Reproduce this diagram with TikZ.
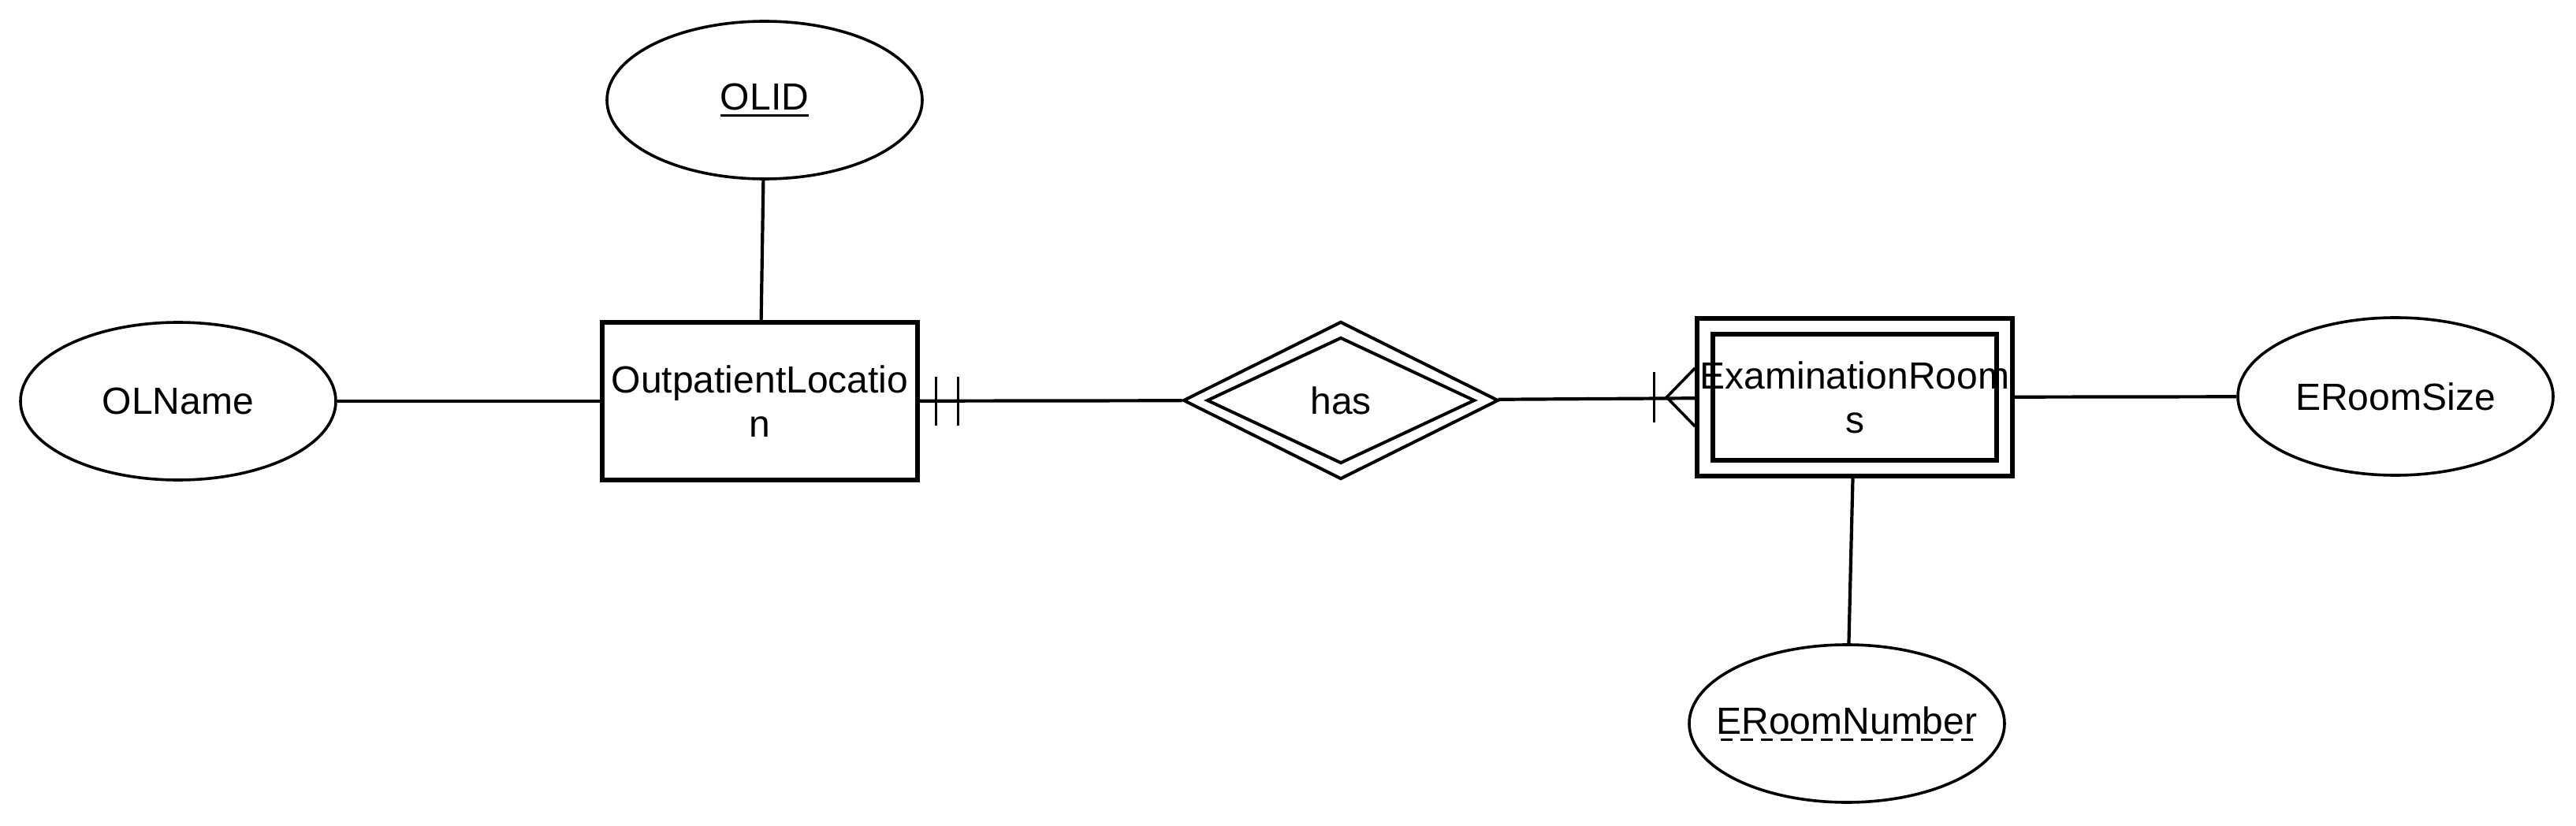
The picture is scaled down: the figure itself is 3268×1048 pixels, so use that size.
\documentclass[tikz,border=0pt]{standalone}
\usepackage{fontspec}
\setmainfont{Liberation Sans}
\usetikzlibrary{shapes.geometric,calc}

\newcommand{\keyline}[1]{\setbox0\hbox{#1}\vtop{\copy0\kern1.4pt\hrule height 0.65pt}}
\newcommand{\partkeyline}[1]{\setbox0\hbox{#1}\vtop{\copy0\nointerlineskip\kern1.4pt\hbox to \wd0{\xleaders\hbox to 6.2pt{\hss\vrule width 3.8pt height 0.55pt depth 0pt\hss}\hfill}}}

\tikzset{
  entity/.style={draw,line width=1.3pt,minimum width=100pt,minimum height=50pt,inner sep=0pt,align=center},
  attr/.style={draw,ellipse,line width=0.9pt,minimum width=100pt,minimum height=50pt,inner sep=0pt},
  rel/.style={draw,diamond,line width=1pt,minimum width=100pt,minimum height=50pt,inner sep=0pt},
  link/.style={line width=1.05pt},
  mark line/.style={line width=0.9pt}
}

\begin{document}
\begin{tikzpicture}[x=0.25pt,y=-0.25pt,font=\fontsize{12}{14}\selectfont]
  \useasboundingbox (0,0) rectangle (3268,1048);
  \node[entity] (loc) at (964,509) {OutpatientLocatio\\n};
  \node[entity,minimum width=90pt,minimum height=40pt] (examIn) at (2353,504) {};
  \node[entity] (exam) at (examIn) {ExaminationRoom\\s};
  \node[rel,minimum width=85pt,minimum height=40pt] (hasIn) at (1701,508) {};
  \node[rel] (has) at (hasIn) {has};
  \node[attr] (olid) at (970,127) {\keyline{OLID}};
  \node[attr] (olname) at (226,509) {OLName};
  \node[attr] (erSize) at (3039,503) {ERoomSize};
  \node[attr] (erNum) at (2343,918) {\makebox[0pt]{\partkeyline{ERoomNumber}}};
  \draw[link] (olname) -- (loc);
  \draw[link] (olid) -- (loc);
  \draw[link] (loc) -- (has);
  \draw[link] (has) -- (exam);
  \draw[link] (exam) -- (erSize);
  \draw[link] (exam) -- (erNum);
  % one and only one
  \foreach \d in {21,49}{
    \draw[mark line] ($(loc.east)+(\d,-31)$) -- ++(0,62);
  }
  % one or many
  \draw[mark line] ($(exam.west)+(-52,-32)$) -- ++(0,64);
  \draw[mark line] ($(exam.west)+(0,-37)$) -- ($(exam.west)+(-36,0)$) -- ($(exam.west)+(0,37)$);
\end{tikzpicture}
\end{document}
